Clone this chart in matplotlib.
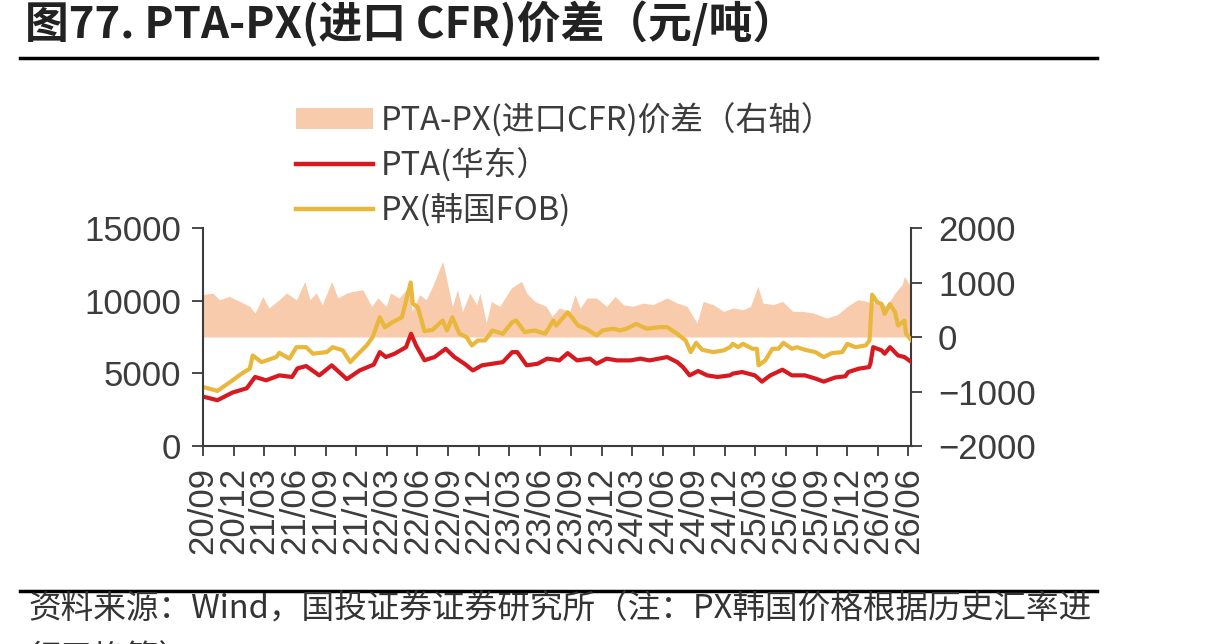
import numpy as np
import pandas as pd
import matplotlib
matplotlib.use("Agg")
import matplotlib.pyplot as plt
import matplotlib.dates as mdates
from matplotlib.lines import Line2D
from matplotlib.patches import Patch

plt.rcParams['font.family'] = ['Noto Sans CJK SC', 'DejaVu Sans']

# PTA (华东), 元/吨
pta_dates = ['2020-09-01', '2020-10-14', '2020-11-28', '2021-01-09', '2021-02-03', '2021-03-08',
             '2021-04-16', '2021-05-24', '2021-06-09', '2021-07-05', '2021-08-13', '2021-09-19',
             '2021-11-03', '2021-12-11', '2022-01-22', '2022-02-09', '2022-02-27', '2022-03-25',
             '2022-04-28', '2022-05-13', '2022-05-28', '2022-06-22', '2022-07-22', '2022-08-24',
             '2022-09-19', '2022-10-19', '2022-11-13', '2022-12-10', '2023-01-10', '2023-02-10',
             '2023-03-10', '2023-03-25', '2023-04-22', '2023-05-25', '2023-06-22', '2023-07-13',
             '2023-07-28', '2023-08-22', '2023-09-19', '2023-10-27', '2023-11-16', '2023-12-16',
             '2024-01-16', '2024-02-25', '2024-03-25', '2024-04-22', '2024-06-13', '2024-07-13',
             '2024-07-30', '2024-08-19', '2024-09-13', '2024-10-10', '2024-11-10', '2024-12-17',
             '2024-12-25', '2025-01-22', '2025-03-01', '2025-03-22', '2025-04-16', '2025-05-22',
             '2025-06-19', '2025-07-28', '2025-08-28', '2025-09-22', '2025-10-25', '2025-11-25',
             '2025-12-04', '2026-01-04', '2026-02-04', '2026-02-08', '2026-02-16', '2026-03-13',
             '2026-03-22', '2026-04-07', '2026-05-01', '2026-05-20', '2026-06-10']
pta = [3400, 3150, 3680, 3970, 4750, 4520,
       4860, 4750, 5340, 5500, 4860, 5550,
       4600, 5200, 5600, 6460, 6120, 6350,
       6800, 7720, 6920, 5900, 6120, 6690,
       6120, 5660, 5200, 5550, 5660, 5770,
       6460, 6460, 5550, 5660, 6010, 5950,
       5890, 6390, 5890, 6010, 5660, 6010,
       5890, 5890, 6010, 5890, 6120, 5770,
       5430, 4860, 5160, 4860, 4750, 4860,
       4980, 5090, 4860, 4430, 4860, 5250,
       4860, 4860, 4640, 4430, 4710, 4800,
       5090, 5320, 5430, 5700, 6800, 6580,
       6350, 6800, 6230, 6120, 5770]

# PX (韩国FOB), 元/吨
px_dates = ['2020-09-01', '2020-10-14', '2020-11-28', '2020-12-25', '2021-01-18', '2021-01-27',
            '2021-02-22', '2021-04-07', '2021-04-16', '2021-05-16', '2021-06-06', '2021-07-05',
            '2021-07-25', '2021-09-04', '2021-09-22', '2021-10-22', '2021-11-13', '2021-12-02',
            '2022-01-01', '2022-01-19', '2022-02-09', '2022-02-24', '2022-03-19', '2022-04-16',
            '2022-04-25', '2022-05-12', '2022-05-18', '2022-06-02', '2022-06-22', '2022-07-16',
            '2022-08-15', '2022-08-28', '2022-09-13', '2022-10-04', '2022-10-25', '2022-11-10',
            '2022-11-28', '2022-12-19', '2023-01-10', '2023-02-10', '2023-03-10', '2023-03-22',
            '2023-04-16', '2023-05-16', '2023-06-16', '2023-07-10', '2023-07-19', '2023-08-22',
            '2023-09-07', '2023-09-22', '2023-10-16', '2023-11-16', '2023-12-04', '2024-01-04',
            '2024-01-25', '2024-02-13', '2024-03-13', '2024-04-13', '2024-05-22', '2024-06-13',
            '2024-07-13', '2024-08-07', '2024-08-22', '2024-09-07', '2024-09-25', '2024-10-28',
            '2024-11-28', '2024-12-17', '2024-12-25', '2025-01-10', '2025-01-25', '2025-02-22',
            '2025-03-07', '2025-03-12', '2025-04-01', '2025-04-22', '2025-05-10', '2025-05-25',
            '2025-06-19', '2025-07-04', '2025-07-28', '2025-08-28', '2025-09-22', '2025-10-16',
            '2025-11-16', '2025-12-01', '2025-12-25', '2026-01-25', '2026-02-05', '2026-02-13',
            '2026-02-28', '2026-03-13', '2026-03-22', '2026-04-07', '2026-04-22', '2026-05-01',
            '2026-05-20', '2026-05-25', '2026-06-10']
px = [4060, 3790, 4520, 4980, 5320, 6230,
      5770, 6120, 6410, 6010, 6800, 6800,
      6350, 6460, 6800, 6580, 5770, 6230,
      6920, 7500, 8860, 8170, 8520, 8860,
      9700, 11250, 9800, 9550, 7900, 8000,
      8630, 7950, 8860, 7720, 7500, 6920,
      7260, 7260, 7950, 7720, 8520, 8630,
      7840, 7950, 7720, 8630, 8290, 9200,
      8750, 8290, 8070, 7610, 7950, 8070,
      7950, 8070, 8400, 8070, 8180, 8180,
      7720, 7260, 6460, 7100, 6620, 6460,
      6580, 6800, 7030, 6800, 7030, 6690,
      6690, 5550, 5890, 6690, 6690, 7100,
      6690, 6800, 6620, 6460, 6120, 6390,
      6460, 7030, 6800, 6920, 7260, 10410,
      9890, 9770, 9090, 9770, 9200, 8290,
      8630, 7720, 7260]

# PTA-PX(进口CFR)价差, 元/吨 (右轴)
spread_dates = ['2020-09-01', '2020-09-30', '2020-10-20', '2020-11-19', '2020-12-19', '2021-01-18',
                '2021-02-03', '2021-02-26', '2021-03-16', '2021-04-16', '2021-05-07', '2021-06-06',
                '2021-07-01', '2021-07-16', '2021-08-04', '2021-08-22', '2021-09-19', '2021-10-07',
                '2021-11-03', '2021-11-22', '2021-12-20', '2022-01-16', '2022-02-03', '2022-02-28',
                '2022-03-13', '2022-04-08', '2022-05-07', '2022-05-16', '2022-06-07', '2022-06-27',
                '2022-07-16', '2022-08-15', '2022-08-25', '2022-09-13', '2022-09-28', '2022-10-13',
                '2022-11-04', '2022-11-24', '2022-12-04', '2022-12-23', '2023-01-07', '2023-02-01',
                '2023-03-07', '2023-04-07', '2023-04-22', '2023-05-16', '2023-06-19', '2023-07-07',
                '2023-07-28', '2023-08-28', '2023-09-13', '2023-09-28', '2023-10-19', '2023-11-16',
                '2023-12-16', '2024-01-10', '2024-02-04', '2024-03-03', '2024-04-02', '2024-05-01',
                '2024-06-13', '2024-07-13', '2024-08-11', '2024-09-10', '2024-09-28', '2024-10-28',
                '2024-11-28', '2024-12-26', '2025-01-25', '2025-02-16', '2025-03-10', '2025-03-25',
                '2025-04-25', '2025-05-22', '2025-06-22', '2025-07-22', '2025-08-22', '2025-10-01',
                '2025-11-01', '2025-12-01', '2026-01-01', '2026-01-30', '2026-02-13', '2026-03-01',
                '2026-03-28', '2026-04-22', '2026-05-13', '2026-05-20', '2026-06-10']
spread = [776, 807, 684, 745, 653, 562,
          440, 745, 532, 684, 807, 684,
          1020, 684, 807, 593, 1020, 716,
          807, 837, 868, 562, 716, 562,
          807, 716, 929, 470, 776, 684,
          929, 1387, 1112, 562, 868, 470,
          807, 593, 807, 257, 653, 562,
          899, 1020, 807, 653, 562, 378,
          532, 470, 776, 532, 716, 716,
          562, 745, 593, 562, 623, 593,
          716, 623, 562, 257, 653, 593,
          470, 532, 501, 562, 929, 623,
          593, 653, 470, 470, 440, 348,
          409, 562, 684, 653, 593, 684,
          562, 807, 960, 1112, 899]

tick_dates = pd.date_range('2020-09-01', '2026-06-01', freq='3MS')

c_red = '#D71920'
c_gold = '#E9B73B'
c_fill = '#F8CBAD'
c_axis = '#3C3C3C'

fig = plt.figure(figsize=(12.13, 6.44), dpi=100)
ax = fig.add_axes([203 / 1213, 1 - 446 / 644, 708.5 / 1213, 218 / 644])
ax2 = ax.twinx()

sd = pd.to_datetime(spread_dates)
ax2.fill_between(sd, 0, spread, color=c_fill, lw=0)
ax.plot(pd.to_datetime(pta_dates), pta, color=c_red, lw=3.0, solid_joinstyle='round')
ax.plot(pd.to_datetime(px_dates), px, color=c_gold, lw=3.0, solid_joinstyle='round')

ax.set_zorder(ax2.get_zorder() + 1)
ax.patch.set_visible(False)

ax.set_xlim(pd.Timestamp('2020-09-01'), pd.Timestamp('2026-06-10'))
ax.set_ylim(0, 15000)
ax2.set_ylim(-2000, 2000)
ax.set_yticks([0, 5000, 10000, 15000])
ax2.set_yticks([-2000, -1000, 0, 1000, 2000])
ax2.set_yticklabels(['\u22122000', '\u22121000', '0', '1000', '2000'])
ax.set_xticks(tick_dates)
ax.xaxis.set_major_formatter(mdates.DateFormatter('%y/%m'))

for a in (ax, ax2):
    for s in a.spines.values():
        s.set_color(c_axis)
        s.set_linewidth(1.5)
    a.spines['top'].set_visible(False)
    a.tick_params(colors=c_axis, width=1.3, length=8)
ax.spines['right'].set_visible(False)
ax2.spines['left'].set_visible(False)
ax2.spines['bottom'].set_visible(False)

for lab in ax.get_yticklabels() + ax2.get_yticklabels():
    lab.set_family('Liberation Sans')
    lab.set_fontsize(25)
    lab.set_color(c_axis)
ax.tick_params(axis='y', pad=8)
ax2.tick_params(axis='y', pad=11)
ax.tick_params(axis='x', pad=8, length=7)
for lab in ax.get_xticklabels():
    lab.set_family('Liberation Sans')
    lab.set_fontsize(25)
    lab.set_rotation(90)
    lab.set_color(c_axis)

handles = [Patch(facecolor=c_fill, edgecolor='none'),
           Line2D([], [], color=c_red, lw=3.2),
           Line2D([], [], color=c_gold, lw=3.2)]
labels = ['PTA-PX(进口CFR)价差（右轴）', 'PTA(华东）', 'PX(韩国FOB)']
leg = fig.legend(handles, labels, loc='upper left', bbox_to_anchor=(283 / 1213, 1 - 90 / 644),
                 frameon=False, fontsize=23.5, handlelength=2.35, handleheight=0.6,
                 handletextpad=0.25, labelspacing=0.33, borderaxespad=0)
for t in leg.get_texts():
    t.set_color(c_axis)

fig.text(25 / 1213, 1 - 24 / 644, '图77. PTA-PX(进口 CFR)价差（元/吨）', fontsize=31.5,
         fontweight='bold', color='#222222', va='center', ha='left')
fig.add_artist(Line2D([20 / 1213, 1097 / 1213], [1 - 58 / 644] * 2, color='black', lw=2.5))
fig.add_artist(Line2D([20 / 1213, 1097 / 1213], [1 - 591 / 644] * 2, color='black', lw=2.5))
fig.text(28 / 1213, 1 - 610 / 644, '资料来源：Wind，国投证券证券研究所（注：PX韩国价格根据历史汇率进',
         fontsize=23.5, color='#333333', va='center', ha='left')
fig.text(28 / 1213, 1 - 660 / 644, '行了换算）', fontsize=23.5, color='#333333', va='center', ha='left')

fig.savefig('out.png', dpi=100)
